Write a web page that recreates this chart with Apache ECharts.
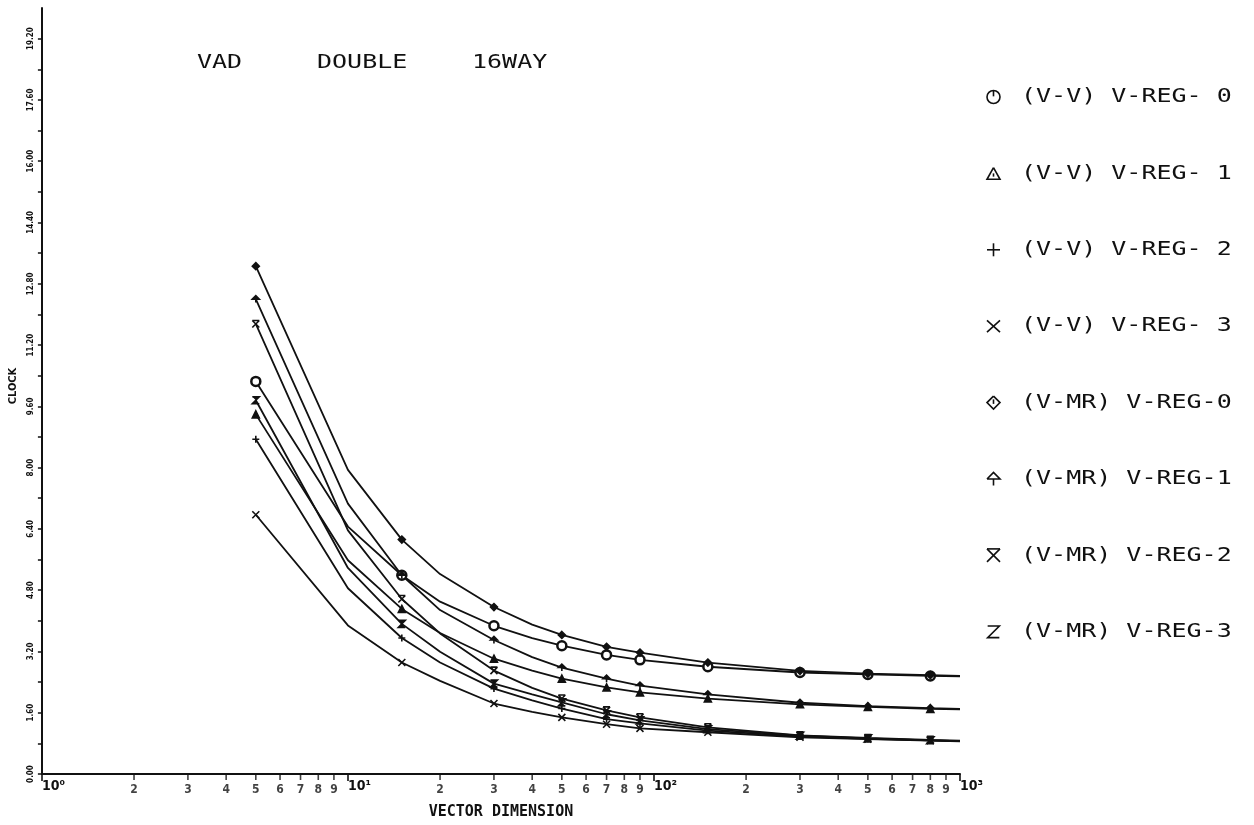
<!DOCTYPE html>
<html>
<head>
<meta charset="utf-8">
<title>VAD DOUBLE 16WAY</title>
<script src="https://cdn.jsdelivr.net/npm/echarts@6/dist/echarts.min.js"></script>
<style>
  html, body { margin: 0; padding: 0; background: #ffffff; }
  #chart { width: 1254px; height: 825px; }
</style>
</head>
<body>
<div id="chart"></div>
<script>
// Vector dimension sampled along each curve; markers only at the measured dimensions.
const vectorDims  = [5, 10, 15, 20, 30, 40, 50, 70, 90, 150, 300, 500, 800, 1000];
const markedDims  = [5, 15, 30, 50, 70, 90, 150, 300, 500, 800];

// Clock counts per vector element.
const vvReg0 = [10.25, 6.46, 5.19, 4.50, 3.87, 3.55, 3.35, 3.11, 2.98, 2.80, 2.65, 2.60, 2.56, 2.55];
const vvReg1 = [9.39, 5.58, 4.31, 3.68, 3.01, 2.70, 2.49, 2.26, 2.13, 1.97, 1.82, 1.75, 1.70, 1.69];
const vvReg2 = [8.74, 4.85, 3.55, 2.91, 2.23, 1.92, 1.71, 1.43, 1.32, 1.13, 0.98, 0.92, 0.88, 0.86];
const vvReg3 = [6.77, 3.88, 2.91, 2.43, 1.84, 1.62, 1.48, 1.30, 1.19, 1.09, 0.96, 0.91, 0.87, 0.85];
const mrReg0 = [13.26, 7.94, 6.12, 5.22, 4.36, 3.90, 3.63, 3.32, 3.17, 2.91, 2.69, 2.62, 2.58, 2.56];
const mrReg1 = [12.40, 7.06, 5.19, 4.28, 3.50, 3.05, 2.78, 2.49, 2.31, 2.08, 1.86, 1.77, 1.72, 1.70];
const mrReg2 = [11.75, 6.36, 4.57, 3.67, 2.70, 2.25, 1.97, 1.66, 1.48, 1.22, 1.01, 0.94, 0.89, 0.87];
const mrReg3 = [9.76, 5.38, 3.92, 3.19, 2.36, 2.08, 1.87, 1.56, 1.40, 1.17, 1.00, 0.93, 0.88, 0.86];

const seriesNames = [
  '(V-V) V-REG- 0', '(V-V) V-REG- 1', '(V-V) V-REG- 2', '(V-V) V-REG- 3',
  '(V-MR) V-REG-0', '(V-MR) V-REG-1', '(V-MR) V-REG-2', '(V-MR) V-REG-3'
];
const seriesValues = [vvReg0, vvReg1, vvReg2, vvReg3, mrReg0, mrReg1, mrReg2, mrReg3];

const headerWords = ['VAD', 'DOUBLE', '16WAY'];
const xAxisTitle = 'VECTOR DIMENSION';
const yAxisTitle = 'CLOCK';

// Y axis: ticks every 0.8, labels every 1.6, up to 20.
const yMin = 0, yMax = 20, yTickStep = 0.8, yLabelStep = 1.6;
// X axis: log decades 10^0..10^3 with intermediate digits 2..9.
const xMin = 1, xMax = 1000;
const decadeStarts = [1, 10, 100];
const minorDigits = [2, 3, 4, 5, 6, 7, 8, 9];
const superDigits = ['\u2070', '\u00B9', '\u00B2', '\u00B3'];

// Plot symbols (10x10 boxes) for each series.
const plotSymbols = [
  'circle',
  'triangle',
  'path://M5,0L5,10M0,5L10,5',
  'path://M0,0L10,10M10,0L0,10',
  'diamond',
  'path://M0,5L5,0L10,5ZM5,5L5,10',
  'path://M0,0L10,0M0,0L10,10M10,0L0,10',
  'path://M0,0L10,0L0,10L10,10'
];
// Outlined legend glyphs in a 10x10 box: strokes as point lists, 'ring' for a circle.
const legendGlyphs = [
  [['ring'], [[5, 0], [5, 4.5]]],
  [[[5, 0.5], [10, 9.5], [0, 9.5], [5, 0.5]], [[5, 5], [5, 7.5]]],
  [[[5, 0], [5, 10]], [[0, 5], [10, 5]]],
  [[[0, 0.5], [10, 9.5]], [[10, 0.5], [0, 9.5]]],
  [[[5, 0], [10, 5], [5, 10], [0, 5], [5, 0]], [[5, 2.5], [5, 6]]],
  [[[0, 5], [5, 0], [10, 5], [0, 5]], [[5, 5], [5, 10]]],
  [[[0, 0], [10, 0]], [[0, 0], [10, 10]], [[10, 0], [0, 10]]],
  [[[0.5, 0.5], [9.5, 0.5], [0.5, 9.5], [9.5, 9.5]]]
];

const ink = '#111111';
const plotFont = 'DejaVu Sans Mono';

const chart = echarts.init(document.getElementById('chart'), null, { renderer: 'canvas' });

const lineSeries = seriesNames.map((name, i) => ({
  name: name,
  type: 'line',
  data: vectorDims.map((d, k) => [d, seriesValues[i][k]]),
  symbol: plotSymbols[i],
  symbolSize: (val) => (markedDims.indexOf(val[0]) >= 0 ? (i === 0 ? 9 : 7) : 0),
  showAllSymbol: true,
  smooth: false,
  lineStyle: { color: ink, width: 1.8 },
  itemStyle: i === 0
    ? { color: '#ffffff', borderColor: ink, borderWidth: 2.5 }
    : { color: ink, borderColor: ink, borderWidth: 1.6 },
  emphasis: { disabled: true },
  z: 3
}));

// Intermediate log ticks with their digit labels, placed through the axis scales.
const minorTickData = [];
decadeStarts.forEach((dec) => {
  minorDigits.forEach((m) => { minorTickData.push([m * dec, 0]); });
});
const minorTickSeries = {
  name: 'minorTicks',
  type: 'scatter',
  data: minorTickData,
  symbol: 'rect',
  symbolSize: [1.6, 6],
  symbolOffset: [0, 3],
  clip: false,
  silent: true,
  itemStyle: { color: ink },
  label: {
    show: true,
    position: 'bottom',
    distance: 4,
    color: ink,
    fontFamily: 'DejaVu Sans Condensed',
    fontWeight: 'bold',
    fontSize: 12,
    formatter: (p) => {
      const x = p.value[0];
      return String(Math.round(x / Math.pow(10, Math.floor(Math.log10(x) + 1e-9))));
    }
  },
  z: 4
};

const legendTop = 97, legendStep = 76.4, glyphSize = 13, glyphX = 987;
const graphics = [];
seriesNames.forEach((name, i) => {
  const cy = legendTop + legendStep * i;
  const s = glyphSize / 10;
  const parts = legendGlyphs[i].map((stroke) => {
    if (stroke[0] === 'ring') {
      return {
        type: 'circle',
        shape: { cx: 5 * s, cy: 5 * s, r: 5 * s },
        style: { fill: 'none', stroke: ink, lineWidth: 1.6 }
      };
    }
    return {
      type: 'polyline',
      shape: { points: stroke.map((p) => [p[0] * s, p[1] * s]) },
      style: { fill: 'none', stroke: ink, lineWidth: 1.6 }
    };
  });
  graphics.push({ type: 'group', x: glyphX, y: cy - glyphSize / 2, children: parts });
  graphics.push({
    type: 'text',
    x: 1021, y: cy,
    scaleX: 1.25,
    style: {
      text: name, fill: ink, fontFamily: plotFont, fontSize: 20,
      align: 'left', verticalAlign: 'middle'
    }
  });
});
const headerX = [197, 317, 472];
headerWords.forEach((w, i) => {
  graphics.push({
    type: 'text',
    x: headerX[i], y: 63,
    scaleX: 1.25,
    style: {
      text: w, fill: ink, fontFamily: plotFont, fontSize: 20,
      align: 'left', verticalAlign: 'middle'
    }
  });
});

const option = {
  backgroundColor: '#ffffff',
  animation: false,
  grid: { left: 36, right: 294, top: 8, bottom: 46, containLabel: false },
  xAxis: {
    type: 'log',
    logBase: 10,
    min: xMin,
    max: xMax,
    name: xAxisTitle,
    nameLocation: 'middle',
    nameGap: 31,
    nameTextStyle: { color: ink, fontFamily: plotFont, fontWeight: 'bold', fontSize: 15 },
    axisLine: { show: true, lineStyle: { color: ink, width: 2 } },
    axisTick: { show: true, inside: false, length: 7, lineStyle: { color: ink, width: 1.6 } },
    splitLine: { show: false },
    minorTick: { show: false },
    axisLabel: {
      show: true,
      margin: 5,
      align: 'left',
      color: ink,
      fontFamily: 'DejaVu Sans Condensed',
      fontWeight: 'bold',
      fontSize: 14,
      formatter: (v) => '10' + superDigits[Math.round(Math.log10(v))]
    }
  },
  yAxis: {
    type: 'value',
    min: yMin,
    max: yMax,
    interval: yTickStep,
    name: yAxisTitle,
    nameLocation: 'middle',
    nameRotate: 90,
    nameGap: 12,
    nameTextStyle: {
      color: ink, fontFamily: 'DejaVu Sans Condensed', fontWeight: 'bold', fontSize: 11,
      padding: [0, 0, 0, 10]
    },
    axisLine: { show: true, lineStyle: { color: ink, width: 2 } },
    axisTick: { show: true, inside: false, length: 4, lineStyle: { color: ink, width: 1.5 } },
    splitLine: { show: false },
    axisLabel: {
      show: true,
      rotate: 90,
      margin: 7,
      color: ink,
      fontFamily: 'DejaVu Sans Condensed',
      fontWeight: 'bold',
      fontSize: 8,
      showMaxLabel: false,
      formatter: (v) => {
        const k = Math.round(v / yTickStep);
        if (k % Math.round(yLabelStep / yTickStep) !== 0 || v > yMax - 1e-6) return '';
        return v.toFixed(2);
      }
    }
  },
  graphic: { elements: graphics },
  series: lineSeries.concat([minorTickSeries])
};

chart.setOption(option);
</script>
</body>
</html>
